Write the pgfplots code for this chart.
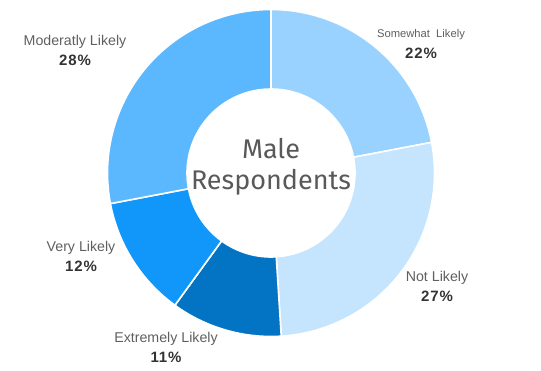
\documentclass[border=0pt]{standalone}
\usepackage{pgfplots}
\usepackage{pgfplotstable}
\pgfplotsset{compat=1.18}
\usepackage{fontspec}
\setmainfont{Liberation Sans}
\newfontfamily\titlefont{Fira Sans}
\newfontfamily\pctfont[LetterSpace=6]{Liberation Sans}
\definecolor{c0}{HTML}{99D1FF}
\definecolor{c1}{HTML}{C5E4FD}
\definecolor{c2}{HTML}{0373C3}
\definecolor{c3}{HTML}{1196FA}
\definecolor{c4}{HTML}{5BB7FE}
\definecolor{labelgray}{HTML}{5F5F5F}
\definecolor{pctgray}{HTML}{333333}
\definecolor{titlegray}{HTML}{595959}

% value = share in percent, lx/ly = label position (pixels, from top-left)
\pgfplotstableread[col sep=comma]{
name,value,lx,ly,fs
Somewhat~~Likely,22,421,35,11.2
Not Likely,27,437,278,14.2
Extremely Likely,11,166,339,14.2
Very Likely,12,81,248,14.2
Moderatly Likely,28,75,42,14.2
}\datatable

\pgfmathsetmacro{\cx}{271}
\pgfmathsetmacro{\cy}{198}
\pgfmathsetmacro{\R}{163.5}
\pgfmathsetmacro{\r}{84}

% precompute angles
\gdef\cum{0}
\pgfplotsforeachungrouped \i in {0,...,4}{%
  \pgfplotstablegetelem{\i}{value}\of\datatable
  \pgfmathsetmacro{\va}{90-\cum*3.6}%
  \pgfmathsetmacro{\newcum}{\cum+\pgfplotsretval}%
  \pgfmathsetmacro{\vb}{90-\newcum*3.6}%
  \expandafter\xdef\csname sa\i\endcsname{\va}%
  \expandafter\xdef\csname sb\i\endcsname{\vb}%
  \expandafter\xdef\csname pc\i\endcsname{\pgfplotsretval}%
  \pgfplotstablegetelem{\i}{name}\of\datatable
  \expandafter\global\expandafter\let\csname nm\i\endcsname\pgfplotsretval
  \pgfplotstablegetelem{\i}{lx}\of\datatable
  \expandafter\xdef\csname lx\i\endcsname{\pgfplotsretval}%
  \pgfplotstablegetelem{\i}{ly}\of\datatable
  \expandafter\xdef\csname ly\i\endcsname{\pgfplotsretval}%
  \pgfplotstablegetelem{\i}{fs}\of\datatable
  \expandafter\xdef\csname fs\i\endcsname{\pgfplotsretval}%
  \xdef\cum{\newcum}%
}

\begin{document}
\begin{tikzpicture}
\begin{axis}[x=1pt,y=1pt,xmin=0,xmax=541,ymin=0,ymax=371,
  hide axis,clip=false,scale only axis]
\path (axis cs:0,0) rectangle (axis cs:541,371);
\pgfplotsinvokeforeach{0,...,4}{
  \fill[c#1, draw=white, line width=1.6pt, line join=miter]
    (axis cs:{\cx+\R*cos(\csname sa#1\endcsname)},{\cy+\R*sin(\csname sa#1\endcsname)})
    arc[start angle=\csname sa#1\endcsname, end angle=\csname sb#1\endcsname, radius=\R pt]
    -- (axis cs:{\cx+\r*cos(\csname sb#1\endcsname)},{\cy+\r*sin(\csname sb#1\endcsname)})
    arc[start angle=\csname sb#1\endcsname, end angle=\csname sa#1\endcsname, radius=\r pt]
    -- cycle;
  \node[text=labelgray, font=\fontsize{\csname fs#1\endcsname}{15}\selectfont, inner sep=0pt]
    at (axis cs:{\csname lx#1\endcsname},{371-\csname ly#1\endcsname}) {\csname nm#1\endcsname};
  \node[text=pctgray, font=\pctfont\fontsize{15}{17}\selectfont\bfseries, inner sep=0pt]
    at (axis cs:{\csname lx#1\endcsname},{371-\csname ly#1\endcsname-18.5}) {\csname pc#1\endcsname\%};
}
\node[text=titlegray, font=\titlefont\fontsize{27}{31}\selectfont, align=center, inner sep=0pt]
  at (axis cs:271,{371-167}) {Male\\Respondents};
\end{axis}
\end{tikzpicture}
\end{document}
